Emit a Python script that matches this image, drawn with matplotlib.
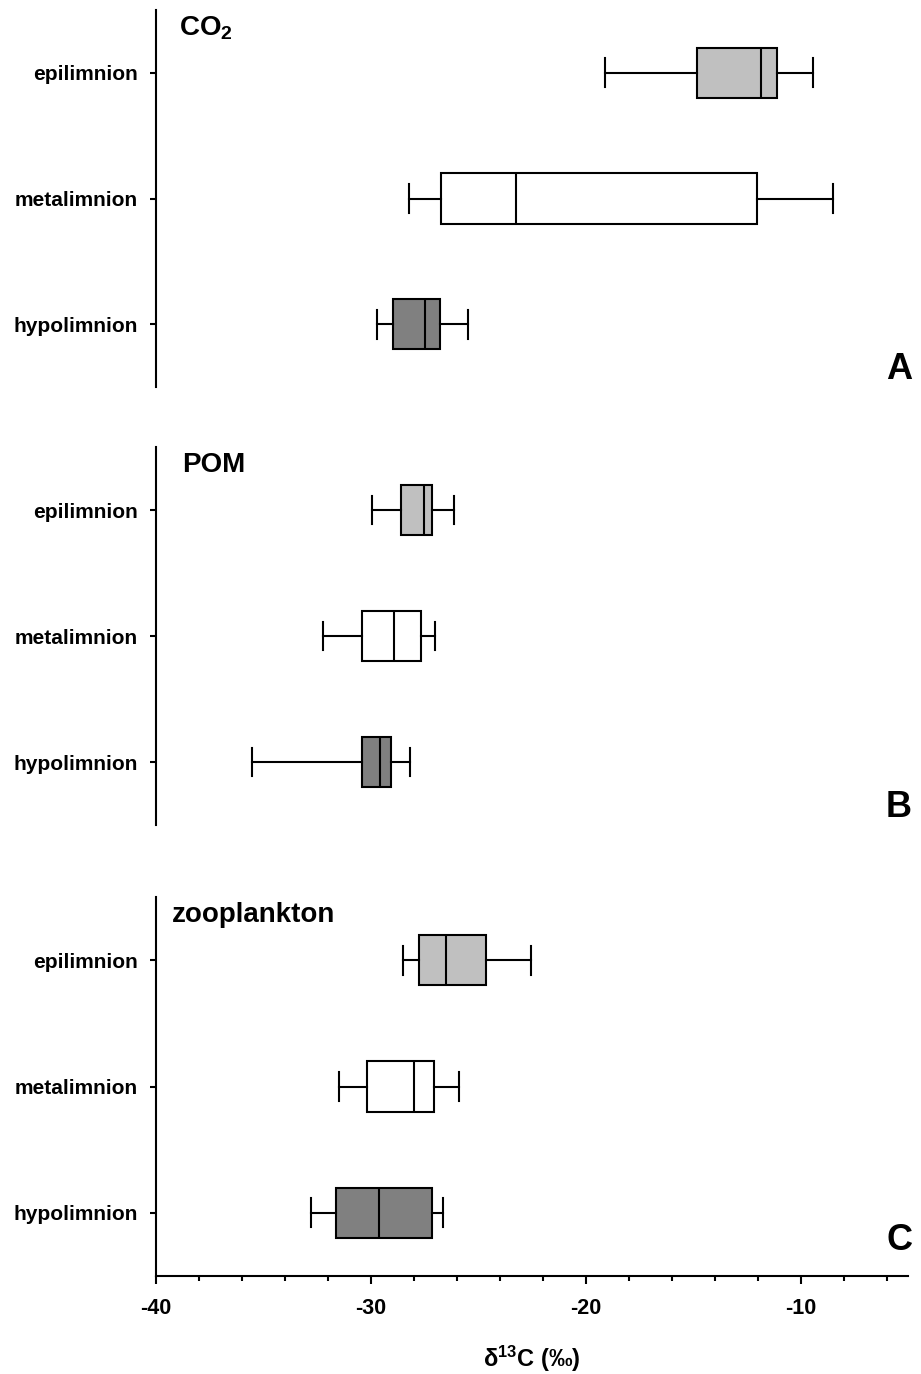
import matplotlib
matplotlib.use("Agg")
import matplotlib.pyplot as plt
from matplotlib.ticker import MultipleLocator

plt.rcParams['font.family'] = ['Liberation Sans', 'DejaVu Sans']
plt.rcParams['font.weight'] = 'bold'
plt.rcParams['mathtext.fontset'] = 'custom'
plt.rcParams['mathtext.rm'] = 'Liberation Sans:bold'
plt.rcParams['mathtext.bf'] = 'Liberation Sans:bold'
plt.rcParams['mathtext.it'] = 'Liberation Sans:bold'

# layers, top to bottom
layers = ["epilimnion", "metalimnion", "hypolimnion"]
layer_colors = ["#c0c0c0", "#ffffff", "#808080"]

# box stats per layer: whisker low, q1, median, q3, whisker high (d13C, permil)
co2_stats = [
    [-19.1, -14.8, -11.86, -11.08, -9.43],
    [-28.23, -26.74, -23.26, -12.03, -8.5],
    [-29.72, -28.98, -27.5, -26.78, -25.5],
]
pom_stats = [
    [-29.94, -28.62, -27.53, -27.15, -26.14],
    [-32.25, -30.4, -28.93, -27.67, -27.0],
    [-35.53, -30.4, -29.58, -29.08, -28.17],
]
zoo_stats = [
    [-28.5, -27.75, -26.51, -24.65, -22.53],
    [-31.5, -30.2, -27.97, -27.07, -25.9],
    [-32.78, -31.6, -29.64, -27.15, -26.64],
]

panel_titles = [r"CO$_{\mathbf{2}}$", "POM", "zooplankton"]
panel_letters = ["A", "B", "C"]
panel_data = [co2_stats, pom_stats, zoo_stats]

W, H = 921, 1374
fig = plt.figure(figsize=(W / 100, H / 100), dpi=100)

# axes boxes in pixels: (top, bottom)
panel_px = [(10, 387), (447, 825), (897, 1276)]
left_px, right_px = 156, 908
title_x = [179, 182, 172]
letter_y = [379, 817, 1250]

lw = 1.5
for i, (top, bot) in enumerate(panel_px):
    ax = fig.add_axes([left_px / W, 1 - bot / H, (right_px - left_px) / W, (bot - top) / H])
    stats = []
    for name, s in zip(layers, panel_data[i]):
        stats.append(dict(label=name, whislo=s[0], q1=s[1], med=s[2], q3=s[3], whishi=s[4]))
    positions = [3, 2, 1]
    bp = ax.bxp(stats, positions=positions, orientation='horizontal', widths=0.4,
                capwidths=0.23, showfliers=False, patch_artist=True,
                boxprops=dict(linewidth=lw, edgecolor='black'),
                medianprops=dict(color='black', linewidth=lw),
                whiskerprops=dict(color='black', linewidth=lw),
                capprops=dict(color='black', linewidth=lw))
    for patch, c in zip(bp['boxes'], layer_colors):
        patch.set_facecolor(c)

    ax.set_xlim(-40, -5)
    ax.set_ylim(0.5, 3.5)
    ax.set_yticks(positions)
    ax.set_yticklabels(layers, fontsize=15, fontweight='bold')
    ax.tick_params(axis='y', direction='out', length=4.5, width=lw, pad=8.5)
    for sp in ['top', 'right']:
        ax.spines[sp].set_visible(False)
    ax.spines['left'].set_linewidth(lw)

    if i < 2:
        ax.spines['bottom'].set_visible(False)
        ax.set_xticks([])
    else:
        ax.spines['bottom'].set_linewidth(lw)
        ax.xaxis.set_major_locator(MultipleLocator(10))
        ax.xaxis.set_minor_locator(MultipleLocator(2))
        ax.set_xticks([-40, -30, -20, -10])
        ax.set_xticklabels(["-40", "-30", "-20", "-10"], fontsize=15.5, fontweight='bold')
        ax.tick_params(axis='x', which='major', direction='out', length=6, width=lw, pad=10)
        ax.tick_params(axis='x', which='minor', direction='out', length=3.5, width=lw)
        ax.set_xlabel(r"δ$^{\mathbf{13}}$C (‰)", fontsize=17, fontweight='bold', labelpad=18)

    fig.text(title_x[i] / W, 1 - (top + 5) / H, panel_titles[i], fontsize=20,
             fontweight='bold', ha='left', va='top')
    fig.text(912 / W, 1 - letter_y[i] / H, panel_letters[i], fontsize=26,
             fontweight='bold', ha='right', va='baseline')

fig.savefig("out.png", dpi=100)
